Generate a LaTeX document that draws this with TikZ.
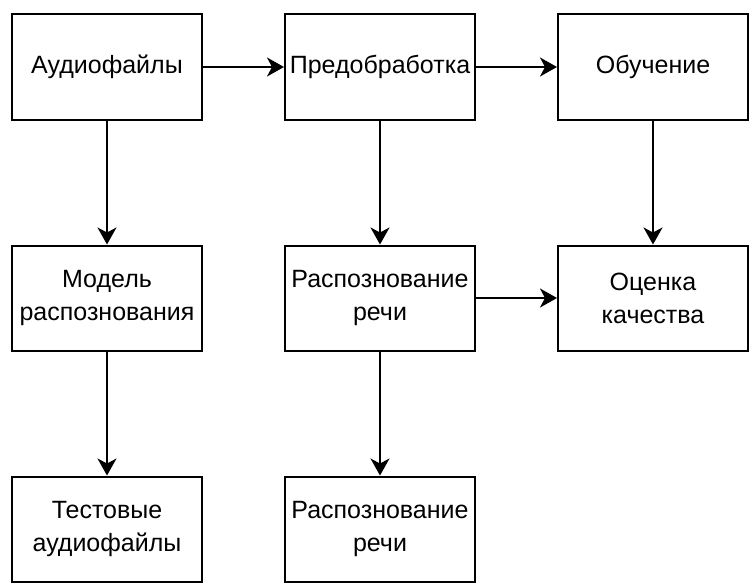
\documentclass[tikz,border=0pt]{standalone}
\usepackage{fontspec}
\setmainfont{Liberation Sans}
\usetikzlibrary{arrows.meta}

\begin{document}
\begin{tikzpicture}[-{Stealth[length=17pt,width=19pt,inset=5pt]},
  line width=2pt,main node/.style={rectangle,draw,-,minimum width=190pt,minimum height=105pt,
  inner sep=0pt,align=center,font=\fontsize{25}{33}\selectfont}]

  \useasboundingbox (0,0) rectangle (755pt,-586pt);

  \node[main node]  (1) at (107pt,-67pt) {Аудиофайлы};
  \node[main node]  (2) at (380pt,-67pt) {Предобработка};
  \node[main node]  (3) at (653pt,-67pt) {Обучение};
  \node[main node]  (4) at (107pt,-298pt) {Модель\\распознования};
  \node[main node]  (5) at (380pt,-298pt) {Распознование\\речи};
  \node[main node]  (6) at (653pt,-298pt) {Оценка\\качества};
  \node[main node]  (7) at (107pt,-529pt) {Тестовые\\аудиофайлы};
  \node[main node]  (8) at (380pt,-529pt) {Распознование\\речи};

  \path
    (1) edge (2)
    (2) edge (3)
    (1) edge (4)
    (2) edge (5)
    (3) edge (6)
    (5) edge (6)
    (4) edge (7)
    (5) edge (8);

\end{tikzpicture}
\end{document}
